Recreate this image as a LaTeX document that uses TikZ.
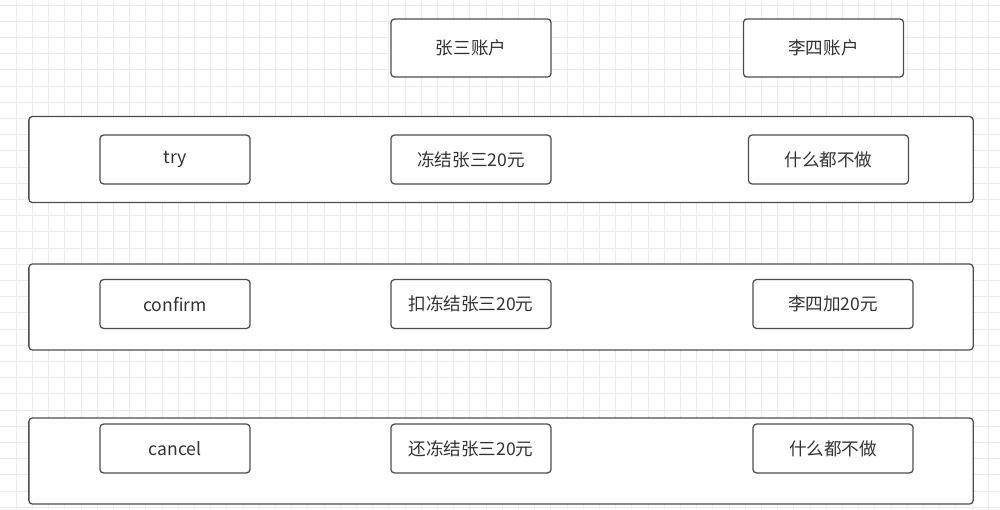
\documentclass[tikz,border=0pt]{standalone}
\usepackage{fontspec}
\newfontfamily\cjk{Noto Sans CJK SC}
\definecolor{boxline}{HTML}{4D4D4D}
\definecolor{boxtext}{HTML}{333333}
\definecolor{gridgray}{HTML}{EBEBEB}
\begin{document}
\begin{tikzpicture}[x=0.025cm, y=-0.025cm,
	  gridline/.style={draw=gridgray, line width=0.5pt},
	  rowbox/.style={draw=boxline, line width=0.9pt, rounded corners=2.5pt, fill=white, minimum width=23.6cm, minimum height=2.15cm, inner sep=0pt},
	  opbox/.style={draw=boxline, line width=0.9pt, rounded corners=2.5pt, fill=white, minimum width=4cm, minimum height=1.22cm, inner sep=0pt, font=\cjk\fontsize{12.5}{14}\selectfont, text=boxtext}]
	  \useasboundingbox (0,0) rectangle (1000,509);
	  \fill[white] (0,0) rectangle (1000,509);
	  % grid
	  \foreach \gx in {0,...,61}
	    \draw[gridline] ({16.1+16.2*\gx},0) -- ({16.1+16.2*\gx},509);
	  \foreach \gy in {0,...,31}
	    \draw[gridline] (0,{5+16.2*\gy}) -- (1000,{5+16.2*\gy});
	  
	  % accounts
	  \node[opbox, minimum height=1.45cm] (zhang) at (471,48) {张三账户};
	  \node[opbox, minimum height=1.45cm] (li) at (823.5,48) {李四账户};
	  
	  % phases
	  \node[rowbox] (tryrow) at (501,159.5) {};
	  \node[rowbox] (confirmrow) at (501,307) {};
	  \node[rowbox] (cancelrow) at (501,461) {};
	  
	  \node[opbox, minimum width=3.75cm] (try) at (175,159.5) {try};
	  \node[opbox] (tryzhang) at (471,159.5) {冻结张三20元};
	  \node[opbox] (tryli) at (828.5,159.5) {什么都不做};
	  
	  \node[opbox, minimum width=3.75cm] (confirm) at (175,304) {confirm};
	  \node[opbox] (confirmzhang) at (471,304) {扣冻结张三20元};
	  \node[opbox] (confirmli) at (833,304) {李四加20元};
	  
	  \node[opbox, minimum width=3.75cm] (cancel) at (175,448.5) {cancel};
	  \node[opbox] (cancelzhang) at (471,448.5) {还冻结张三20元};
	  \node[opbox] (cancelli) at (833,448.5) {什么都不做};
	\end{tikzpicture}
\end{document}
